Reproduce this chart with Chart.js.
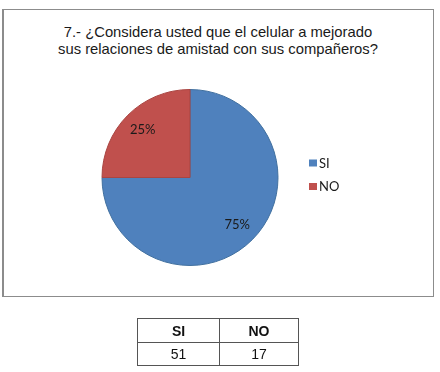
<!DOCTYPE html>
<html>
<head>
<meta charset="utf-8">
<script src="https://cdn.jsdelivr.net/npm/chart.js@4.4.0/dist/chart.umd.min.js"></script>
<style>
  body { margin: 0; background: #fff; width: 440px; height: 372px; position: relative; overflow: hidden;
         font-family: "Liberation Sans", Arial, sans-serif; }
  #box { position: absolute; left: 2px; top: 9px; width: 429px; height: 286px;
         border: 1px solid #8c8c8c; border-left-width: 2px; }
  #title { position: absolute; left: 3px; width: 430px; top: 24px; text-align: center;
           font-size: 14.8px; line-height: 17px; color: #1a1a1a; }
  #pie { position: absolute; left: 0; top: 0; }
  #tbl { position: absolute; left: 137px; top: 318px; border-collapse: collapse; }
  #tbl td { border: 1px solid #555; text-align: center; font-size: 14px; color: #111; padding: 0; }
  #tbl tr.head td { font-weight: bold; height: 23px; }
  #tbl tr.vals td { height: 22px; }
</style>
</head>
<body>
<div id="box"></div>
<div id="title">7.- ¿Considera usted que el celular a mejorado<br>sus relaciones de amistad con sus compañeros?</div>
<canvas id="pie" width="440" height="372"></canvas>
<table id="tbl"><tr class="head"></tr><tr class="vals"></tr></table>
<script>
// chart data
const categories = ['SI', 'NO'];
const counts = [51, 17];
const colors = ['#4f81bd', '#c0504d'];
const edgeColors = ['#41709f', '#a94542'];

const total = counts.reduce((a, b) => a + b, 0);

// table under the chart
const headRow = document.querySelector('#tbl tr.head');
const valRow = document.querySelector('#tbl tr.vals');
categories.forEach((c, i) => {
    const th = document.createElement('td');
    th.textContent = c;
    th.style.width = i === 0 ? '81px' : '78px';
    headRow.appendChild(th);
    const td = document.createElement('td');
    td.textContent = counts[i];
    valRow.appendChild(td);
});

// percent labels inside the slices
const sliceLabels = {
    id: 'sliceLabels',
    afterDatasetsDraw(chart) {
        const ctx = chart.ctx;
        const meta = chart.getDatasetMeta(0);
        ctx.save();
        ctx.font = '13px Lato, "Open Sans", sans-serif';
        ctx.fillStyle = '#1a1a1a';
        ctx.textAlign = 'center';
        ctx.textBaseline = 'middle';
        meta.data.forEach((arc, i) => {
            const p = arc.getProps(['x', 'y', 'startAngle', 'endAngle', 'outerRadius'], true);
            const mid = (p.startAngle + p.endAngle) / 2;
            const r = p.outerRadius * 0.76;
            const pct = Math.round(counts[i] / total * 100) + '%';
            ctx.fillText(pct, p.x + Math.cos(mid) * r, p.y + Math.sin(mid) * r);
        });
        ctx.restore();
    }
};

// legend on the right
const sideLegend = {
    id: 'sideLegend',
    afterDraw(chart) {
        const ctx = chart.ctx;
        ctx.save();
        ctx.font = '13px Lato, "Open Sans", sans-serif';
        ctx.textBaseline = 'middle';
        categories.forEach((c, i) => {
            const y = 163 + i * 23.5;
            ctx.fillStyle = colors[i];
            ctx.fillRect(309, y - 3.5, 8, 7);
            ctx.fillStyle = '#1a1a1a';
            ctx.fillText(c, 319, y + 0.5);
        });
        ctx.restore();
    }
};

new Chart(document.getElementById('pie'), {
    type: 'pie',
    data: {
        labels: categories,
        datasets: [{
            data: counts,
            backgroundColor: colors,
            borderColor: edgeColors,
            borderWidth: 1
        }]
    },
    options: {
        responsive: false,
        animation: false,
        radius: 88,
        layout: { padding: { left: 101, right: 161, top: 89, bottom: 106 } },
        plugins: {
            legend: { display: false },
            tooltip: { enabled: false }
        }
    },
    plugins: [sliceLabels, sideLegend]
});
</script>
</body>
</html>
